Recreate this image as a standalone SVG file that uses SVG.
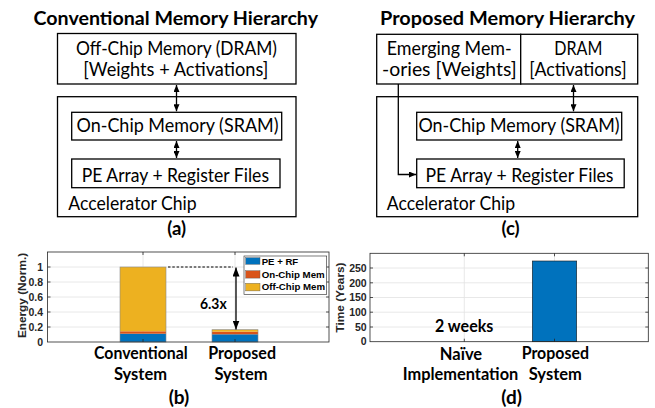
<svg xmlns="http://www.w3.org/2000/svg" width="655" height="408" viewBox="0 0 655 408">
<defs>
<marker id="ah" viewBox="0 0 7 6" refX="7" refY="3" markerWidth="7" markerHeight="6" markerUnits="userSpaceOnUse" orient="auto-start-reverse"><path d="M0,0 L7,3 L0,6 z" fill="#000"/></marker>
<marker id="ah2" viewBox="0 0 9 7" refX="9" refY="3.5" markerWidth="9" markerHeight="7" markerUnits="userSpaceOnUse" orient="auto-start-reverse"><path d="M0,0 L9,3.5 L0,7 z" fill="#000"/></marker>
</defs>
<style>
.box{fill:#fff;stroke:#000;stroke-width:1.3}
.t{font-family:Lato,"Open Sans","Liberation Sans",sans-serif;font-size:18.5px;fill:#000}
.tb{font-family:Lato,"Open Sans","Liberation Sans",sans-serif;font-weight:bold;fill:#000}
.conn{stroke:#000;stroke-width:1.3;fill:none}
.ax{fill:none;stroke:#262626;stroke-width:0.8}
.grid{stroke:#e2e2e2;stroke-width:0.8}
.tk{stroke:#262626;stroke-width:0.8}
.tick{font-family:"Liberation Sans",Arial,sans-serif;font-weight:bold;font-size:10.5px;fill:#262626}
.ylab{font-family:"Liberation Sans",Arial,sans-serif;font-weight:bold;font-size:11.8px;fill:#262626}
.leg{font-family:"Liberation Sans",Arial,sans-serif;font-weight:bold;font-size:9.6px;fill:#000}
</style>
<rect x="0" y="0" width="655" height="408" fill="#fff"/>

<!-- Panel (a) -->
<text class="tb" x="33.5" y="25" font-size="18" textLength="284.5" lengthAdjust="spacingAndGlyphs">Conventional Memory Hierarchy</text>
<g id="a-offchip">
<rect class="box" x="57.5" y="33.5" width="238.5" height="50.5"/>
<text class="t" x="76" y="55" textLength="201" lengthAdjust="spacingAndGlyphs">Off-Chip Memory (DRAM)</text>
<text class="t" x="83.3" y="75.7" textLength="185" lengthAdjust="spacingAndGlyphs">[Weights + Activations]</text>
</g>
<g id="a-accel">
<rect class="box" x="57.5" y="96.7" width="238.5" height="120"/>
<text class="t" x="68.3" y="210" textLength="128.4" lengthAdjust="spacingAndGlyphs">Accelerator Chip</text>
</g>
<g id="a-onchip">
<rect class="box" x="71.7" y="112.3" width="210" height="27.7"/>
<text class="t" x="76.5" y="131.5" textLength="202" lengthAdjust="spacingAndGlyphs">On-Chip Memory (SRAM)</text>
</g>
<g id="a-pe">
<rect class="box" x="71.7" y="159" width="208.3" height="28.7"/>
<text class="t" x="81.7" y="181.7" textLength="187.3" lengthAdjust="spacingAndGlyphs">PE Array + Register Files</text>
</g>
<text class="tb" x="176.7" y="234.5" font-size="18.5" text-anchor="middle">(a)</text>

<!-- Panel (c) -->
<text class="tb" x="380" y="25" font-size="18" textLength="255" lengthAdjust="spacingAndGlyphs">Proposed Memory Hierarchy</text>
<g id="c-emerging">
<rect class="box" x="376.7" y="34.3" width="144" height="49.7"/>
<text class="t" x="386.7" y="55" textLength="125" lengthAdjust="spacingAndGlyphs">Emerging Mem-</text>
<text class="t" x="382" y="75.7" textLength="134.7" lengthAdjust="spacingAndGlyphs">-ories [Weights]</text>
</g>
<g id="c-dram">
<rect class="box" x="520.7" y="34.3" width="117" height="49.7"/>
<text class="t" x="554.3" y="55" textLength="48" lengthAdjust="spacingAndGlyphs">DRAM</text>
<text class="t" x="529.3" y="75.7" textLength="97.4" lengthAdjust="spacingAndGlyphs">[Activations]</text>
</g>
<g id="c-accel">
<rect class="box" x="376.7" y="96.7" width="261" height="120"/>
<text class="t" x="386.7" y="210" textLength="128.4" lengthAdjust="spacingAndGlyphs">Accelerator Chip</text>
</g>
<g id="c-onchip">
<rect class="box" x="416.7" y="112.3" width="205" height="27.7"/>
<text class="t" x="418.5" y="131.5" textLength="201" lengthAdjust="spacingAndGlyphs">On-Chip Memory (SRAM)</text>
</g>
<g id="c-pe">
<rect class="box" x="416.7" y="159" width="207.5" height="28.7"/>
<text class="t" x="425.5" y="181.7" textLength="188" lengthAdjust="spacingAndGlyphs">PE Array + Register Files</text>
</g>
<text class="tb" x="510.5" y="234.5" font-size="18.5" text-anchor="middle">(c)</text>

<!-- Connectors -->
<g id="connectors">
<line class="conn" x1="176.5" y1="85" x2="176.5" y2="111.3" marker-start="url(#ah)" marker-end="url(#ah)"/>
<line class="conn" x1="176.5" y1="141" x2="176.5" y2="158" marker-start="url(#ah)" marker-end="url(#ah)"/>
<line class="conn" x1="573.5" y1="85" x2="573.5" y2="111.3" marker-start="url(#ah)" marker-end="url(#ah)"/>
<line class="conn" x1="517.7" y1="141" x2="517.7" y2="158" marker-start="url(#ah)" marker-end="url(#ah)"/>
<polyline class="conn" points="398.3,84 398.3,174.5 416,174.5" marker-end="url(#ah)"/>
</g>

<!-- Chart (b) -->
<g id="chart-b">
<rect x="47.5" y="252" width="281.5" height="90" fill="#fff"/>
<g class="grid">
<line x1="47.5" y1="327" x2="329" y2="327"/>
<line x1="47.5" y1="312" x2="329" y2="312"/>
<line x1="47.5" y1="297" x2="329" y2="297"/>
<line x1="47.5" y1="282" x2="329" y2="282"/>
<line x1="47.5" y1="267" x2="329" y2="267"/>
<line x1="143" y1="252" x2="143" y2="342"/>
<line x1="235" y1="252" x2="235" y2="342"/>
</g>
<rect x="120" y="333.7" width="46" height="8.3" fill="#0072BD"/>
<rect x="120" y="331.3" width="46" height="2.4" fill="#D95319"/>
<rect x="120" y="267" width="46" height="64.3" fill="#EDB120"/>
<rect x="120" y="267" width="46" height="75" fill="none" stroke="#8a8a8a" stroke-width="0.6"/>
<rect x="212" y="334.3" width="46" height="7.7" fill="#0072BD"/>
<rect x="212" y="331.7" width="46" height="2.6" fill="#D95319"/>
<rect x="212" y="329.7" width="46" height="2" fill="#EDB120"/>
<rect x="212" y="329.7" width="46" height="12.3" fill="none" stroke="#8a8a8a" stroke-width="0.6"/>
<rect class="ax" x="47.5" y="252" width="281.5" height="90"/>
<g class="tk">
<line x1="47.5" y1="327" x2="50.5" y2="327"/><line x1="47.5" y1="312" x2="50.5" y2="312"/><line x1="47.5" y1="297" x2="50.5" y2="297"/><line x1="47.5" y1="282" x2="50.5" y2="282"/><line x1="47.5" y1="267" x2="50.5" y2="267"/>
<line x1="329" y1="327" x2="326" y2="327"/><line x1="329" y1="312" x2="326" y2="312"/><line x1="329" y1="297" x2="326" y2="297"/><line x1="329" y1="282" x2="326" y2="282"/><line x1="329" y1="267" x2="326" y2="267"/>
<line x1="143" y1="252" x2="143" y2="255"/><line x1="235" y1="252" x2="235" y2="255"/>
<line x1="143" y1="342" x2="143" y2="339"/><line x1="235" y1="342" x2="235" y2="339"/>
</g>
<g class="tick" text-anchor="end">
<text x="43" y="345.7">0</text>
<text x="43" y="330.7">0.2</text>
<text x="43" y="315.7">0.4</text>
<text x="43" y="300.7">0.6</text>
<text x="43" y="285.7">0.8</text>
<text x="43" y="270.7">1</text>
</g>
<text class="ylab" transform="translate(26,295.5) rotate(-90)" text-anchor="middle">Energy (Norm.)</text>
<line x1="168" y1="267" x2="233" y2="267" stroke="#000" stroke-width="1" stroke-dasharray="2.5,1.8"/>
<line x1="236" y1="267.5" x2="236" y2="329.5" stroke="#000" stroke-width="1.3" marker-start="url(#ah2)" marker-end="url(#ah2)"/>
<text class="tb" x="200" y="309" font-size="15" textLength="26.7" lengthAdjust="spacingAndGlyphs">6.3x</text>
<g id="legend-b">
<rect x="244" y="256" width="82.7" height="38.3" fill="#fff" stroke="#262626" stroke-width="0.6"/>
<rect x="245.7" y="257.7" width="14.3" height="6.6" fill="#0072BD" stroke="#555" stroke-width="0.4"/>
<rect x="245.7" y="270.7" width="14.3" height="7.4" fill="#D95319" stroke="#555" stroke-width="0.4"/>
<rect x="245.7" y="283.3" width="14.3" height="7.6" fill="#EDB120" stroke="#555" stroke-width="0.4"/>
<text class="leg" x="261.7" y="264.6">PE + RF</text>
<text class="leg" x="261.7" y="277.6" textLength="63" lengthAdjust="spacingAndGlyphs">On-Chip Mem</text>
<text class="leg" x="261.7" y="290.4" textLength="63.3" lengthAdjust="spacingAndGlyphs">Off-Chip Mem</text>
</g>
<text class="tb" x="94" y="359.3" font-size="16.5" textLength="93.7" lengthAdjust="spacingAndGlyphs">Conventional</text>
<text class="tb" x="140.5" y="380" font-size="16.5" text-anchor="middle">System</text>
<text class="tb" x="208.3" y="359.3" font-size="16.5" textLength="67.7" lengthAdjust="spacingAndGlyphs">Proposed</text>
<text class="tb" x="241" y="380" font-size="16.5" text-anchor="middle">System</text>
<text class="tb" x="179" y="403.5" font-size="19" text-anchor="middle">(b)</text>
</g>

<!-- Chart (d) -->
<g id="chart-d">
<rect x="370" y="253.3" width="278.3" height="88.4" fill="#fff"/>
<g class="grid">
<line x1="370" y1="327" x2="648.3" y2="327"/>
<line x1="370" y1="312.2" x2="648.3" y2="312.2"/>
<line x1="370" y1="297.5" x2="648.3" y2="297.5"/>
<line x1="370" y1="282.8" x2="648.3" y2="282.8"/>
<line x1="370" y1="268" x2="648.3" y2="268"/>
<line x1="464.3" y1="253.3" x2="464.3" y2="341.7"/>
<line x1="554.5" y1="253.3" x2="554.5" y2="341.7"/>
</g>
<rect x="532.3" y="261" width="44.4" height="80.7" fill="#0072BD" stroke="#1a1a1a" stroke-width="0.6"/>
<rect class="ax" x="370" y="253.3" width="278.3" height="88.4"/>
<g class="tk">
<line x1="370" y1="327" x2="373" y2="327"/><line x1="370" y1="312.2" x2="373" y2="312.2"/><line x1="370" y1="297.5" x2="373" y2="297.5"/><line x1="370" y1="282.8" x2="373" y2="282.8"/><line x1="370" y1="268" x2="373" y2="268"/>
<line x1="648.3" y1="327" x2="645.3" y2="327"/><line x1="648.3" y1="312.2" x2="645.3" y2="312.2"/><line x1="648.3" y1="297.5" x2="645.3" y2="297.5"/><line x1="648.3" y1="282.8" x2="645.3" y2="282.8"/><line x1="648.3" y1="268" x2="645.3" y2="268"/>
<line x1="464.3" y1="253.3" x2="464.3" y2="256.3"/><line x1="554.5" y1="253.3" x2="554.5" y2="256.3"/>
<line x1="464.3" y1="341.7" x2="464.3" y2="338.7"/><line x1="554.5" y1="341.7" x2="554.5" y2="338.7"/>
</g>
<g class="tick" text-anchor="end">
<text x="366.7" y="345.4">0</text>
<text x="366.7" y="330.7">50</text>
<text x="366.7" y="315.9">100</text>
<text x="366.7" y="301.2">150</text>
<text x="366.7" y="286.5">200</text>
<text x="366.7" y="271.7">250</text>
</g>
<text class="ylab" transform="translate(344.3,297.5) rotate(-90)" text-anchor="middle">Time (Years)</text>
<text class="tb" x="435" y="331.7" font-size="16.5" textLength="58.3" lengthAdjust="spacingAndGlyphs">2 weeks</text>
<text class="tb" x="461" y="360" font-size="16.5" text-anchor="middle">Naïve</text>
<text class="tb" x="402.7" y="380" font-size="16.5" textLength="115.6" lengthAdjust="spacingAndGlyphs">Implementation</text>
<text class="tb" x="521.7" y="359.3" font-size="16.5" textLength="67.3" lengthAdjust="spacingAndGlyphs">Proposed</text>
<text class="tb" x="555.3" y="380" font-size="16.5" text-anchor="middle">System</text>
<text class="tb" x="511.7" y="403.5" font-size="19" text-anchor="middle">(d)</text>
</g>
</svg>
